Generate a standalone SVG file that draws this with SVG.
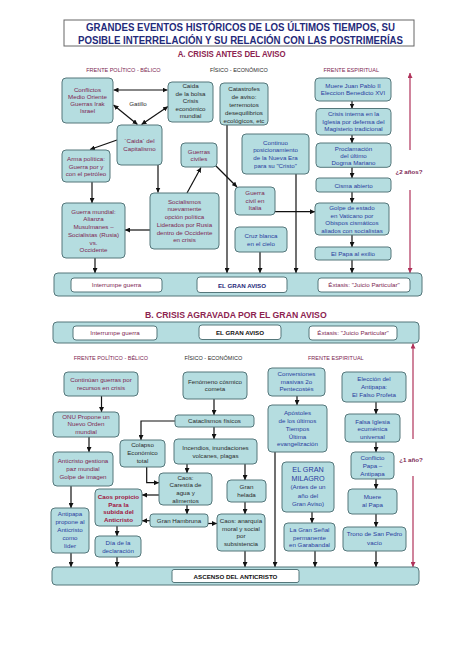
<svg xmlns="http://www.w3.org/2000/svg" width="474" height="670" viewBox="0 0 474 670">
<style>
.n{fill:#b5dde0;stroke:#55777b;stroke-width:1}
.w{fill:#fff;stroke:#55777b;stroke-width:1}
.t{font-family:"Liberation Sans",Arial,sans-serif;font-size:6.2px;text-anchor:middle}
.m{fill:#7d2652}
.b{fill:#2a3c9e}
.d{fill:#2b2b2b}
.h{font-family:"Liberation Sans",Arial,sans-serif;font-size:5.5px;text-anchor:middle}
.c{stroke:#111;stroke-width:1.2;fill:none;marker-end:url(#ah)}
.dd{marker-start:url(#ah)}
.r{stroke:#b0325a;stroke-width:1.2;fill:none;marker-end:url(#rh)}
.bold{font-weight:bold}
</style>
<defs>
<marker id="ah" markerUnits="userSpaceOnUse" markerWidth="5" markerHeight="5" refX="5" refY="2.5" orient="auto-start-reverse"><path d="M0,0 L5,2.5 L0,5 z" fill="#111"/></marker>
<marker id="rh" markerUnits="userSpaceOnUse" markerWidth="5" markerHeight="5" refX="5" refY="2.5" orient="auto"><path d="M0,0 L5,2.5 L0,5 z" fill="#b0325a"/></marker>
</defs>
<rect width="474" height="670" fill="#fff"/>

<g id="title">
<rect x="64" y="20" width="350" height="26" fill="#fff" stroke="#666" stroke-width="1"/>
<text x="240.5" y="30.7" font-family="Liberation Sans,Arial,sans-serif" font-size="10.2" font-weight="bold" fill="#1f2a7a" text-anchor="middle" textLength="309" lengthAdjust="spacingAndGlyphs">GRANDES EVENTOS HISTÓRICOS DE LOS ÚLTIMOS TIEMPOS, SU</text>
<text x="240.5" y="43.5" font-family="Liberation Sans,Arial,sans-serif" font-size="10.2" font-weight="bold" fill="#1f2a7a" text-anchor="middle" textLength="325" lengthAdjust="spacingAndGlyphs">POSIBLE INTERRELACIÓN Y SU RELACIÓN CON LAS POSTRIMERÍAS</text>
</g>
<text x="231.7" y="56.7" font-family="Liberation Sans,Arial,sans-serif" font-size="8.4" font-weight="bold" fill="#8c2350" text-anchor="middle" textLength="108" lengthAdjust="spacingAndGlyphs">A. CRISIS ANTES DEL AVISO</text>
<text class="h m" x="123.3" y="71.5">FRENTE POLÍTICO - BÉLICO</text>
<text class="h d" x="238.8" y="71.5">FÍSICO - ECONÓMICO</text>
<text class="h m" x="351.2" y="71.5">FRENTE ESPIRITUAL</text>

<g id="connectors">
<line class="c dd" x1="113.5" y1="90" x2="167.5" y2="90"/>
<line class="c dd" x1="113.5" y1="105" x2="137.5" y2="124.5"/>
<line class="c dd" x1="168" y1="106.5" x2="141.5" y2="124.5"/>
<line class="c" x1="117" y1="140" x2="90" y2="149.5"/>
<line class="c" x1="158" y1="165" x2="158" y2="192.5"/>
<line class="c" x1="187" y1="193" x2="201" y2="167.5"/>
<line class="c" x1="216" y1="166" x2="237" y2="187"/>
<line class="c" x1="227" y1="125" x2="227" y2="273"/>
<line class="c" x1="296" y1="174" x2="296" y2="273"/>
<line class="c" x1="275" y1="211.7" x2="315" y2="211.7"/>
<line class="c" x1="260" y1="252" x2="260" y2="273"/>
<line class="c" x1="92" y1="182" x2="92" y2="203"/>
<line class="c" x1="150" y1="230" x2="125" y2="230"/>
<line class="c" x1="95" y1="258" x2="95" y2="273"/>
<line class="c" x1="352" y1="101" x2="352" y2="108.5"/>
<line class="c" x1="352" y1="135" x2="352" y2="143"/>
<line class="c" x1="352" y1="167.3" x2="352" y2="178"/>
<line class="c" x1="352" y1="192" x2="352" y2="203"/>
<line class="c" x1="352" y1="235" x2="352" y2="247"/>
<line class="c" x1="352" y1="260" x2="352" y2="273"/>
<line class="r" x1="410" y1="150" x2="410" y2="73"/>
<line class="r" x1="410" y1="190" x2="410" y2="273"/>
<line class="c" x1="197" y1="285" x2="162" y2="285"/>
<line class="c" x1="287" y1="285" x2="318" y2="285"/>

<line class="r" x1="413" y1="439" x2="413" y2="343.5"/>
<line class="r" x1="413" y1="476" x2="413" y2="567"/>
<line class="c" x1="101.5" y1="396" x2="101.5" y2="412"/>
<line class="c" x1="89" y1="437" x2="89" y2="452"/>
<line class="c" x1="71" y1="486" x2="71" y2="508"/>
<line class="c" x1="71" y1="553" x2="71" y2="567"/>
<line class="c" x1="117" y1="526" x2="117" y2="536"/>
<line class="c" x1="117" y1="557" x2="117" y2="567"/>
<line class="c" x1="214" y1="399" x2="214" y2="415"/>
<polyline class="c" points="175,421 141,421 141,440"/>
<line class="c" x1="214" y1="427" x2="214" y2="439"/>
<polyline class="c" points="146.7,467 146.7,482.7 159,482.7" stroke-width="1.6"/>
<line class="c" x1="187" y1="464" x2="187" y2="473"/>
<line class="c" x1="159" y1="495" x2="142" y2="495"/>
<line class="c" x1="187" y1="505" x2="187" y2="514"/>
<line class="c" x1="150" y1="520.7" x2="142" y2="520.7"/>
<line class="c" x1="208" y1="523.5" x2="217" y2="523.5"/>
<line class="c" x1="245" y1="464" x2="245" y2="480"/>
<line class="c" x1="245" y1="502" x2="245" y2="514"/>
<line class="c" x1="245" y1="551" x2="245" y2="567"/>
<line class="c" x1="275" y1="452" x2="275" y2="567"/>
<line class="c" x1="297" y1="396" x2="297" y2="405"/>
<line class="c" x1="312" y1="512" x2="312" y2="523"/>
<line class="c" x1="315" y1="551" x2="315" y2="567"/>
<line class="c" x1="376" y1="402" x2="376" y2="414"/>
<line class="c" x1="376" y1="442" x2="376" y2="452"/>
<line class="c" x1="376" y1="479" x2="376" y2="489"/>
<line class="c" x1="376" y1="514" x2="376" y2="527"/>
<line class="c" x1="376" y1="551" x2="376" y2="567"/>
</g>

<text x="138" y="105.5" class="t d">Gatillo</text>
<text x="409" y="173.5" class="t m bold" font-size="6">¿2 años?</text>
<text x="411" y="462" class="t m bold" font-size="6">¿1 año?</text>

<g id="conflictos"><rect class="n" x="62" y="78" width="51" height="45" rx="4"/>
<text class="t m"><tspan x="87.5" y="91.5">Conflictos</tspan><tspan x="87.5" y="98.8">Medio Oriente</tspan><tspan x="87.5" y="106.1">Guerras Irak</tspan><tspan x="87.5" y="113.4">Israel</tspan></text></g>

<g id="caida-bolsa"><rect class="n" x="168" y="82" width="45" height="40" rx="4"/>
<text class="t d"><tspan x="190.5" y="88.2">Caida</tspan><tspan x="190.5" y="95.7">de la bolsa</tspan><tspan x="190.5" y="103.2">Crisis</tspan><tspan x="190.5" y="110.7">económico</tspan><tspan x="190.5" y="118.2">mundial</tspan></text></g>

<g id="catastrofes"><rect class="n" x="220" y="83" width="48" height="42" rx="4"/>
<text class="t d"><tspan x="244" y="91.3">Catastrofes</tspan><tspan x="244" y="99.1">de aviso:</tspan><tspan x="244" y="106.9">terremotos</tspan><tspan x="244" y="114.7">desequilibrios</tspan><tspan x="244" y="122.5">ecológicos, etc</tspan></text></g>

<g id="caida-capitalismo"><rect class="n" x="117" y="125" width="45" height="40" rx="4"/>
<text class="t m"><tspan x="139.5" y="143">`Caida` del</tspan><tspan x="139.5" y="151.3">Capitalismo</tspan></text></g>

<g id="arma-politica"><rect class="n" x="62" y="150" width="48" height="32" rx="4"/>
<text class="t m"><tspan x="86" y="161.3">Arma política:</tspan><tspan x="86" y="168.7">Guerra por y</tspan><tspan x="86" y="176">con el petróleo</tspan></text></g>

<g id="guerras-civiles"><rect class="n" x="181" y="143" width="36" height="24" rx="4"/>
<text class="t m"><tspan x="199" y="153.7">Guerras</tspan><tspan x="199" y="161.3">civiles</tspan></text></g>

<g id="continuo"><rect class="n" x="242" y="134" width="67" height="40" rx="4"/>
<text class="t b"><tspan x="275.5" y="144.5">Continuo</tspan><tspan x="275.5" y="152.4">posicionamiento</tspan><tspan x="275.5" y="160.3">de la Nueva Era</tspan><tspan x="275.5" y="168.2">para su "Cristo"</tspan></text></g>

<g id="socialismos"><rect class="n" x="150" y="193" width="69" height="56" rx="4"/>
<text class="t m"><tspan x="184.5" y="203.7">Socialismos</tspan><tspan x="184.5" y="211.4">nuevamente</tspan><tspan x="184.5" y="219.1">opción política</tspan><tspan x="184.5" y="226.8">Liderados por Rusia</tspan><tspan x="184.5" y="234.5">dentro de Occidente</tspan><tspan x="184.5" y="242.2">en crisis</tspan></text></g>

<g id="guerra-mundial"><rect class="n" x="62" y="203" width="63" height="55" rx="4"/>
<text class="t m"><tspan x="93.5" y="213.7">Guerra mundial:</tspan><tspan x="93.5" y="221.4">Alianza</tspan><tspan x="93.5" y="229.1">Musulmanes –</tspan><tspan x="93.5" y="236.8">Socialistas (Rusia)</tspan><tspan x="93.5" y="244.5">vs.</tspan><tspan x="93.5" y="252.2">Occidente</tspan></text></g>

<g id="guerra-italia"><rect class="n" x="235" y="187" width="40" height="28" rx="4"/>
<text class="t m"><tspan x="255" y="194.8">Guerra</tspan><tspan x="255" y="202.5">civil en</tspan><tspan x="255" y="210.2">Italia</tspan></text></g>

<g id="cruz-blanca"><rect class="n" x="235" y="227" width="52" height="25" rx="4"/>
<text class="t b"><tspan x="261" y="238">Cruz blanca</tspan><tspan x="261" y="246.3">en el cielo</tspan></text></g>

<g id="muere-jp"><rect class="n" x="315" y="78" width="76" height="23" rx="4"/>
<text class="t b"><tspan x="353" y="87.7">Muere Juan Pablo II</tspan><tspan x="353" y="95.3">Eleccion Benedicto XVI</tspan></text></g>

<g id="crisis-interna"><rect class="n" x="316" y="108.5" width="75" height="26.5" rx="4"/>
<text class="t b"><tspan x="353.5" y="115.8">Crisis interna en la</tspan><tspan x="353.5" y="123.5">Iglesia por defensa del</tspan><tspan x="353.5" y="131.2">Magisterio tradicional</tspan></text></g>

<g id="proclamacion"><rect class="n" x="316" y="143" width="75" height="24.3" rx="4"/>
<text class="t b"><tspan x="353.5" y="151">Proclamación</tspan><tspan x="353.5" y="158.2">del último</tspan><tspan x="353.5" y="165.4">Dogma Mariano</tspan></text></g>

<g id="cisma"><rect class="n" x="316" y="178" width="75" height="14" rx="3"/>
<text class="t b" x="353.5" y="187.7">Cisma abierto</text></g>

<g id="golpe"><rect class="n" x="315" y="203" width="74" height="32" rx="4"/>
<text class="t b"><tspan x="352" y="210.4">Golpe de estado</tspan><tspan x="352" y="217.9">en Vaticano por</tspan><tspan x="352" y="225.4">Obispos cismáticos</tspan><tspan x="352" y="232.9">aliados con socialistas</tspan></text></g>

<g id="papa-exilio"><rect class="n" x="315" y="247" width="76" height="13" rx="3"/>
<text class="t b" x="353" y="256">El Papa al exilio</text></g>

<g id="bar-a"><rect class="n" x="54" y="273" width="368" height="23" rx="4"/></g>
<g id="interrumpe-a"><rect class="w" x="71" y="278" width="91" height="14" rx="3"/>
<text class="t m" x="116.5" y="287.2">Interrumpe guerra</text></g>
<g id="gran-aviso-a"><rect class="w" x="197" y="277" width="90" height="15.5" rx="3"/>
<text class="t bold" x="242" y="287.8" font-size="7.5" fill="#1f2a7a">EL GRAN AVISO</text></g>
<g id="extasis-a"><rect class="w" x="318" y="278" width="92" height="14" rx="3"/>
<text class="t m" x="364" y="287.2">Éxtasis: "Juicio Particular"</text></g>

<text x="235.8" y="318.3" font-family="Liberation Sans,Arial,sans-serif" font-size="8.4" font-weight="bold" fill="#8c2350" text-anchor="middle" textLength="181.7" lengthAdjust="spacingAndGlyphs">B. CRISIS AGRAVADA POR EL GRAN AVISO</text>

<g id="bar-b"><rect class="n" x="53" y="322" width="366" height="21" rx="4"/></g>
<g id="interrumpe-b"><rect class="w" x="73" y="326" width="84" height="14" rx="3"/>
<text class="t m" x="115" y="335.2">Interrumpe guerra</text></g>
<g id="gran-aviso-b"><rect class="w" x="199" y="325" width="82" height="14.5" rx="3"/>
<text class="t bold" x="240" y="335.3" font-size="7.5" fill="#111">EL GRAN AVISO</text></g>
<g id="extasis-b"><rect class="w" x="309" y="326" width="88" height="14" rx="3"/>
<text class="t m" x="353" y="335.2">Éxtasis: "Juicio Particular"</text></g>

<text class="h m" x="110.8" y="359.5">FRENTE POLÍTICO - BÉLICO</text>
<text class="h d" x="213.3" y="359.5">FÍSICO - ECONÓMICO</text>
<text class="h m" x="335.8" y="359.5">FRENTE ESPIRITUAL</text>

<g id="continuan"><rect class="n" x="64" y="372" width="74" height="24" rx="4"/>
<text class="t m"><tspan x="101" y="382">Continúan guerras por</tspan><tspan x="101" y="389.7">recursos en crisis</tspan></text></g>

<g id="onu"><rect class="n" x="53" y="412" width="66" height="25" rx="4"/>
<text class="t m"><tspan x="86" y="418.7">ONU Propone un</tspan><tspan x="86" y="426.3">Nuevo Orden</tspan><tspan x="86" y="433.7">mundial</tspan></text></g>

<g id="anticristo-paz"><rect class="n" x="53" y="452" width="60" height="34" rx="4"/>
<text class="t m"><tspan x="83" y="462.7">Anticristo gestiona</tspan><tspan x="83" y="470.7">paz mundial</tspan><tspan x="83" y="478.7">Golpe de imagen</tspan></text></g>

<g id="antipapa-lider"><rect class="n" x="51" y="508" width="38" height="45" rx="4"/>
<text class="t b"><tspan x="70" y="516">Antipapa</tspan><tspan x="70" y="524.1">propone al</tspan><tspan x="70" y="532.2">Anticristo</tspan><tspan x="70" y="540.3">como</tspan><tspan x="70" y="548.4">líder</tspan></text></g>

<g id="caos-propicio"><rect class="n" x="95" y="489" width="47" height="37" rx="4"/>
<text class="t bold" fill="#a0153e"><tspan x="118.5" y="498.7">Caos propicio</tspan><tspan x="118.5" y="506.5">Para la</tspan><tspan x="118.5" y="514.3">subida del</tspan><tspan x="118.5" y="522.1">Anticristo</tspan></text></g>

<g id="dia-declaracion"><rect class="n" x="95" y="536" width="46" height="21" rx="4"/>
<text class="t b"><tspan x="118" y="544.7">Día de la</tspan><tspan x="118" y="552.7">declaración</tspan></text></g>

<g id="fenomeno"><rect class="n" x="183" y="372" width="64" height="27" rx="4"/>
<text class="t d"><tspan x="215" y="383.7">Fenómeno cósmico</tspan><tspan x="215" y="391.3">cometa</tspan></text></g>

<g id="cataclismos"><rect class="n" x="175" y="415" width="79" height="12" rx="3"/>
<text class="t d" x="214.5" y="423.3">Cataclismos físicos</text></g>

<g id="colapso"><rect class="n" x="120" y="440" width="45" height="27" rx="4"/>
<text class="t d"><tspan x="142.5" y="447.2">Colapso</tspan><tspan x="142.5" y="455">Económico</tspan><tspan x="142.5" y="462.8">total</tspan></text></g>

<g id="incendios"><rect class="n" x="174" y="439" width="83" height="25" rx="4"/>
<text class="t d"><tspan x="215.5" y="450.3">Incendios, inundaciones</tspan><tspan x="215.5" y="457.7">volcanes, plagas</tspan></text></g>

<g id="caos-carestia"><rect class="n" x="159" y="473" width="53" height="32" rx="4"/>
<text class="t d"><tspan x="185.5" y="479.6">Caos:</tspan><tspan x="185.5" y="487.4">Carestía de</tspan><tspan x="185.5" y="495.2">agua y</tspan><tspan x="185.5" y="503">alimentos</tspan></text></g>

<g id="gran-hambruna"><rect class="n" x="150" y="514" width="58" height="13" rx="3"/>
<text class="t d" x="179" y="522.8">Gran Hambruna</text></g>

<g id="gran-helada"><rect class="n" x="227" y="480" width="39" height="22" rx="4"/>
<text class="t d"><tspan x="246.5" y="488.7">Gran</tspan><tspan x="246.5" y="497">helada</tspan></text></g>

<g id="caos-anarquia"><rect class="n" x="217" y="514" width="48" height="37" rx="4"/>
<text class="t d"><tspan x="241" y="522.7">Caos: anarquía</tspan><tspan x="241" y="530.5">moral y social</tspan><tspan x="241" y="538.3">por</tspan><tspan x="241" y="546.1">subsistencia</tspan></text></g>

<g id="conversiones"><rect class="n" x="268" y="368" width="57" height="28" rx="4"/>
<text class="t b"><tspan x="296.5" y="376">Conversiones</tspan><tspan x="296.5" y="383.7">masivas 2o</tspan><tspan x="296.5" y="391.3">Pentecostés</tspan></text></g>

<g id="apostoles"><rect class="n" x="268" y="405" width="59" height="47" rx="4"/>
<text class="t b"><tspan x="297.5" y="415.3">Apóstoles</tspan><tspan x="297.5" y="423">de los últimos</tspan><tspan x="297.5" y="430.8">Tiempos</tspan><tspan x="297.5" y="438.6">Última</tspan><tspan x="297.5" y="446.4">evangelización</tspan></text></g>

<g id="gran-milagro"><rect class="n" x="282" y="462" width="52" height="50" rx="4"/>
<text class="t b"><tspan x="308" y="472" font-size="7.2">EL GRAN</tspan><tspan x="308" y="480.5" font-size="7.2">MILAGRO</tspan><tspan x="308" y="489">(Antes de un</tspan><tspan x="308" y="497.5">año del</tspan><tspan x="308" y="506">Gran Aviso)</tspan></text></g>

<g id="gran-senal"><rect class="n" x="284" y="523" width="51" height="28" rx="4"/>
<text class="t b"><tspan x="309.5" y="532">La Gran Señal</tspan><tspan x="309.5" y="539.5">permanente</tspan><tspan x="309.5" y="547">en Garabandal</tspan></text></g>

<g id="eleccion-antipapa"><rect class="n" x="342" y="372" width="64" height="30" rx="4"/>
<text class="t b"><tspan x="374" y="381.3">Elección del</tspan><tspan x="374" y="389.2">Antipapa:</tspan><tspan x="374" y="397.1">El Falso Profeta</tspan></text></g>

<g id="falsa-iglesia"><rect class="n" x="345" y="414" width="55" height="28" rx="4"/>
<text class="t b"><tspan x="372.5" y="423.7">Falsa Iglesia</tspan><tspan x="372.5" y="431.3">ecuménica</tspan><tspan x="372.5" y="438.9">universal</tspan></text></g>

<g id="conflicto-papa"><rect class="n" x="351" y="452" width="43" height="27" rx="4"/>
<text class="t b"><tspan x="372.5" y="460.3">Conflicto</tspan><tspan x="372.5" y="468">Papa –</tspan><tspan x="372.5" y="475.5">Antipapa</tspan></text></g>

<g id="muere-papa"><rect class="n" x="348" y="489" width="49" height="25" rx="4"/>
<text class="t b"><tspan x="372.5" y="498.7">Muere</tspan><tspan x="372.5" y="507">al Papa</tspan></text></g>

<g id="trono"><rect class="n" x="343" y="527" width="63" height="24" rx="4"/>
<text class="t b"><tspan x="374.5" y="536">Trono de San Pedro</tspan><tspan x="374.5" y="544.7">vacío</tspan></text></g>

<g id="bar-c"><rect class="n" x="52" y="567" width="367" height="18" rx="4"/></g>
<g id="ascenso"><rect class="w" x="172" y="569.5" width="127" height="13" rx="2"/>
<text class="t bold" x="235.5" y="579" font-size="7.5" fill="#111">ASCENSO DEL ANTICRISTO</text></g>
</svg>
